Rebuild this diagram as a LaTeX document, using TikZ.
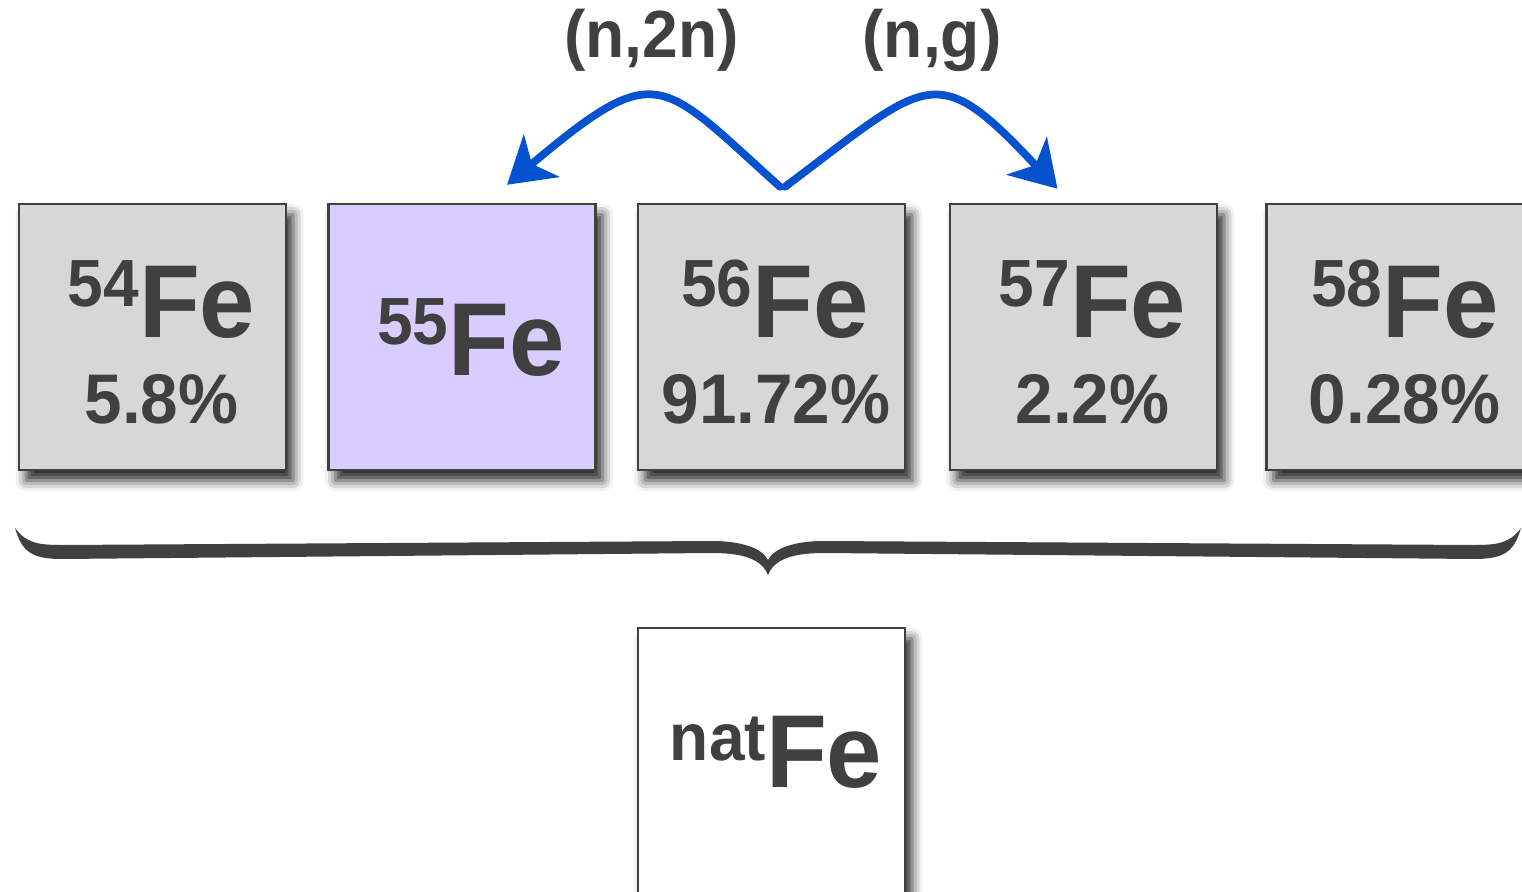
\documentclass[tikz,border=0pt]{standalone}
\usepackage{fontspec}
\setmainfont{Liberation Sans}
\usetikzlibrary{arrows.meta,calc,shadows.blur}
\definecolor{feInk}   {RGB}{ 64, 64, 64}
\definecolor{feGrey}  {RGB}{215,215,215}
\definecolor{fePurple}{RGB}{217,204,255}
\definecolor{feBlue}  {RGB}{  5, 82,208}
\newcommand{\Sq}[1]{\scalebox{0.96}[1]{#1}}
\newcommand{\Iso}[2][0.62cm]{\Sq{\raisebox{#1}{\fontsize{38}{38}\selectfont #2}%
  \fontsize{59}{59}\selectfont Fe}}
\newcommand{\Pct}[1]{\Sq{\fontsize{40}{40}\selectfont #1}}

\begin{document}
\begin{tikzpicture}[
    x=0.02cm,y=-0.02cm,
    every node/.style={text=feInk,font=\bfseries,inner sep=0pt},
    box/.style={rectangle,draw=feInk,line width=1.4pt,fill=feGrey,
                minimum width=5.34cm,minimum height=5.32cm,
                blur shadow={shadow xshift=4pt,shadow yshift=-6pt,
                             shadow blur radius=6pt,shadow opacity=85}},
    hot/.style={box,fill=fePurple},
    nat/.style={box,fill=white},
    iso/.style={anchor=base},
    pct/.style={anchor=base},
    react/.style={line width=4.4pt,feBlue,line cap=round,
                  -{Stealth[length=0.9cm,width=1.1cm,inset=0.25cm]}},
    rlabel/.style={anchor=base,font=\bfseries\fontsize{38}{38}\selectfont}
  ]
  \useasboundingbox (0,0) rectangle (1522,892);
  % Isotope boxes
  \node[box] (b54) at (152.5,337) {};
  \node[hot] (b55) at (462,337)   {};
  \node[box] (b56) at (771.5,337) {};
  \node[box] (b57) at (1083.5,337) {};
  \node[box] (b58) at (1400,337)  {};
  \node[nat] (bnat) at (771.5,761) {};
  % Isotope names
  \node[iso] (l54) at (161.5,337) {\Iso{54}};
  \node[iso] (l55) at (471,375)   {\Iso{55}};
  \node[iso] (l56) at (775,337)   {\Iso{56}};
  \node[iso] (l57) at (1092.5,337) {\Iso{57}};
  \node[iso] (l58) at (1405,337)  {\Iso{58}};
  \node[iso] (lnat) at (776,787)  {\Iso[0.54cm]{nat}};
  % Abundances
  \node[pct] (p54) at (161.5,423)  {\Pct{5.8\%}};
  \node[pct] (p56) at (776,423)    {\Pct{91.72\%}};
  \node[pct] (p57) at (1092.5,423) {\Pct{2.2\%}};
  \node[pct] (p58) at (1404.5,423) {\Pct{0.28\%}};
  % Reactions
  \coordinate (s1) at ($(b56.north)+(8.5,-16)$);
  \coordinate (t1) at ($(b55.north)+(45,-18)$);
  \coordinate (s2) at ($(b56.north)+(13.5,-16)$);
  \coordinate (t2) at ($(b57.north)+(-26,-14)$);
  \draw[react] (s1) .. controls (659,78) and (658,58) .. (t1);
  \draw[react] (s2) .. controls (930,78) and (935,58) .. (t2);
  \node[rlabel] (n2n) at (651.5,58) {\Sq{(n,2n)}};
  \node[rlabel] (ng)  at (932,58)   {\Sq{(n,g)}};
  % Brace
  \fill[feInk] (15,528) .. controls (22,552) and (32,559) .. (62,559)
    -- (712,553) .. controls (745,553) and (762,560) .. (768,575)
    .. controls (774,560) and (791,553) .. (824,553)
    -- (1474,559) .. controls (1504,559) and (1514,552) .. (1521,528)
    .. controls (1510,543) and (1498,545) .. (1474,545)
    -- (824,541) .. controls (795,541) and (774,548) .. (768,560)
    .. controls (762,548) and (741,541) .. (712,541)
    -- (62,545) .. controls (38,545) and (26,543) .. (15,528) -- cycle;
\end{tikzpicture}
\end{document}
